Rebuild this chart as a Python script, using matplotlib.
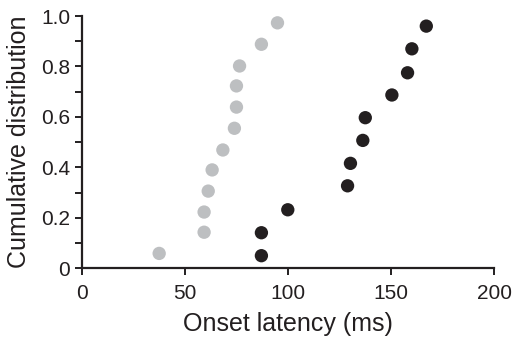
import matplotlib
matplotlib.use("Agg")
import matplotlib.pyplot as plt
from matplotlib.ticker import MultipleLocator

plt.rcParams["font.family"] = ["Liberation Sans", "DejaVu Sans"]

# grey group (earlier onsets)
grey_latency = [37.4, 59.2, 59.2, 61.2, 63.1, 68.3, 73.9, 74.9, 74.9, 76.4, 87.0, 94.8]
grey_cdf = [0.059, 0.143, 0.223, 0.306, 0.390, 0.469, 0.555, 0.639, 0.723, 0.802, 0.888, 0.973]

# black group (later onsets)
black_latency = [87.0, 87.0, 99.8, 128.8, 130.2, 136.2, 137.4, 150.3, 157.9, 160.0, 167.0]
black_cdf = [0.050, 0.141, 0.232, 0.327, 0.416, 0.507, 0.597, 0.687, 0.775, 0.870, 0.960]

x_ticks = [0, 50, 100, 150, 200]
y_ticks = [0, 0.2, 0.4, 0.6, 0.8, 1.0]
y_tick_labels = ["0", "0.2", "0.4", "0.6", "0.8", "1.0"]

fig = plt.figure(figsize=(5.13, 3.41), dpi=100)
ax = fig.add_axes([0.160, 0.2132, 0.8036, 0.7398])

ax.scatter(grey_latency, grey_cdf, s=92, color="#BDBFC1", edgecolors="none", zorder=3, clip_on=False)
ax.scatter(black_latency, black_cdf, s=92, color="#231F20", edgecolors="none", zorder=3, clip_on=False)

ax.set_xlim(0, 200)
ax.set_ylim(0, 1.0)
ax.set_xticks(x_ticks)
ax.set_yticks(y_ticks)
ax.set_yticklabels(y_tick_labels)
ax.yaxis.set_minor_locator(MultipleLocator(0.1))

for side in ["top", "right"]:
    ax.spines[side].set_visible(False)
for side in ["left", "bottom"]:
    ax.spines[side].set_linewidth(1.6)
    ax.spines[side].set_color("#231F20")

ax.tick_params(axis="both", which="both", direction="out", length=5, width=1.4,
               color="#231F20", labelcolor="#231F20", labelsize=15)
ax.tick_params(axis="x", pad=6)
ax.tick_params(axis="y", pad=3.5)

ax.set_xlabel("Onset latency (ms)", fontsize=18, color="#231F20", labelpad=7)
ax.set_ylabel("Cumulative distribution", fontsize=18, color="#231F20", labelpad=7)

fig.savefig("out.png", dpi=100)
